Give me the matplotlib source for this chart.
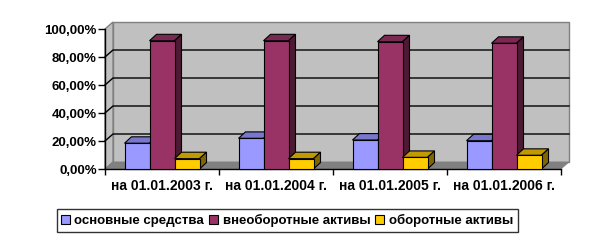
import matplotlib
matplotlib.use('Agg')
import matplotlib.pyplot as plt
from matplotlib.patches import Polygon, Patch
from matplotlib.ticker import FuncFormatter

plt.rcParams['font.family'] = ['Liberation Sans', 'DejaVu Sans']
plt.rcParams['font.weight'] = 'bold'

categories = ['на 01.01.2003 г.', 'на 01.01.2004 г.', 'на 01.01.2005 г.', 'на 01.01.2006 г.']
series_names = ['основные средства', 'внеоборотные активы', 'оборотные активы']
fixed_assets = [18.4, 21.9, 20.7, 20.2]
noncurrent_assets = [91.6, 91.6, 90.9, 89.8]
current_assets = [7.4, 7.4, 8.3, 9.8]
y_ticks = [0, 20, 40, 60, 80, 100]

# front / top / side colours like excel 3d columns
colors = [('#9999FF', '#7777CC', '#5C5C99'),
          ('#993366', '#7A2952', '#4D1A33'),
          ('#FFCC00', '#C09A00', '#806600')]

fig = plt.figure(figsize=(6.12, 2.42), dpi=100)
ax = fig.add_axes([105 / 612, 73 / 242, 456 / 612, 140 / 242])
ax.set_xlim(0, 4)
ax.set_ylim(0, 100)
ax.set_facecolor('none')

# depth offsets (data units)
dxw, dyw = 8 / 114, 5.0
dxb, dyb = 7 / 114, 4.6

# walls and floor
ax.add_patch(Polygon([(dxw, dyw), (4 + dxw, dyw), (4 + dxw, 100 + dyw), (dxw, 100 + dyw)],
                     closed=True, fc='#C0C0C0', ec='#808080', lw=1, clip_on=False, zorder=0))
ax.add_patch(Polygon([(0, 0), (dxw, dyw), (dxw, 100 + dyw), (0, 100)],
                     closed=True, fc='#C0C0C0', ec='#808080', lw=1, clip_on=False, zorder=0))
ax.add_patch(Polygon([(0, 0), (4, 0), (4 + dxw, dyw), (dxw, dyw)],
                     closed=True, fc='#808080', ec='#808080', lw=0.5, clip_on=False, zorder=0.5))
for v in y_ticks[1:-1]:
    ax.plot([0, dxw, 4 + dxw], [v, v + dyw, v + dyw], color='black', lw=1, zorder=0.8, clip_on=False)

w = 25 / 114
values = [fixed_assets, noncurrent_assets, current_assets]
for s, vals in enumerate(values):
    front, top, side = colors[s]
    z = 2 + s
    xs = [i + 0.5 + (s - 1) * w for i in range(len(categories))]
    ax.bar(xs, vals, width=w, color=front, edgecolor='black', lw=0.8, zorder=z + 0.5, clip_on=False)
    for x, v in zip(xs, vals):
        x0, x1 = x - w / 2, x + w / 2
        ax.add_patch(Polygon([(x0, v), (x1, v), (x1 + dxb, v + dyb), (x0 + dxb, v + dyb)],
                             closed=True, fc=top, ec='black', lw=0.8, zorder=z, clip_on=False))
        ax.add_patch(Polygon([(x1, 0), (x1 + dxb, dyb), (x1 + dxb, v + dyb), (x1, v)],
                             closed=True, fc=side, ec='black', lw=0.8, zorder=z, clip_on=False))

for sp in ['top', 'right']:
    ax.spines[sp].set_visible(False)
for sp in ['left', 'bottom']:
    ax.spines[sp].set_color('black')
    ax.spines[sp].set_linewidth(1)
    ax.spines[sp].set_zorder(1)

ax.set_yticks(y_ticks)
ax.yaxis.set_major_formatter(FuncFormatter(lambda v, p: f'{v:.2f}'.replace('.', ',') + '%'))
ax.tick_params(axis='y', direction='out', length=5, width=1, pad=1, labelsize=9.5)
ax.set_xticks([0, 1, 2, 3, 4])
ax.set_xticklabels([])
ax.set_xticks([i + 0.5 for i in range(len(categories))], minor=True)
ax.set_xticklabels(categories, minor=True)
ax.tick_params(axis='x', which='major', direction='out', length=4, width=1)
ax.tick_params(axis='x', which='minor', length=0, pad=7, labelsize=10)

handles = [Patch(fc=c[0], ec='black', lw=0.8) for c in colors]
leg = fig.legend(handles, series_names, loc='center', bbox_to_anchor=(0.469, 0.089), ncol=3,
                 fontsize=9.5, frameon=True, fancybox=False, edgecolor='black',
                 handlelength=0.65, handleheight=0.65, handletextpad=0.35, columnspacing=0.4,
                 borderpad=0.35, borderaxespad=0)
leg.get_frame().set_linewidth(1)

fig.savefig('out.png', dpi=100, facecolor='white')
